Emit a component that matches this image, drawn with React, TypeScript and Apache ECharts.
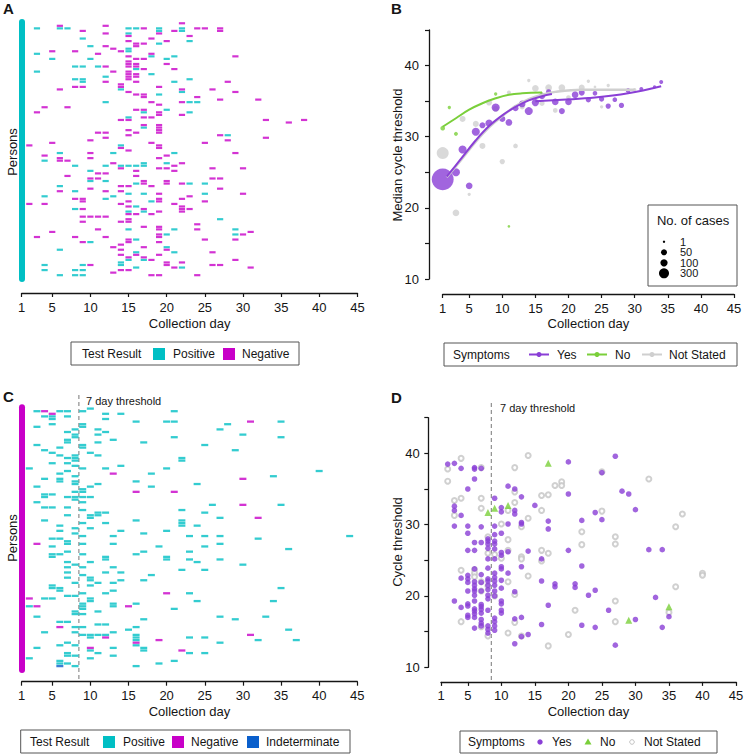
import React, { useEffect, useRef } from "react";
import * as echarts from "echarts";

const FONT = '"Liberation Sans", Arial, Helvetica, sans-serif';
const TEAL = "#00BFC4";
const MAGENTA = "#C800C8";
const BLUE = "#0A5FCC";
const PURPLE = "#8A3FD6";
const GREEN = "#7ACF3A";
const GRAY = "#CFCFCF";
const INK = "#151515";

const DAY_TICKS = [1, 5, 10, 15, 20, 25, 30, 35, 40, 45];
const THRESHOLD_DAY = 8.5;

// ---------- Panel A: [collection day, person] ----------
const aPositive: [number, number][] = [
  [3, 2], [3, 12], [3, 19], [4, 54], [4, 68], [4, 95], [4, 97], [5, 14],
  [6, 2], [6, 51], [6, 64], [6, 89], [6, 99], [7, 2],
  [8, 17], [8, 22], [8, 56], [8, 66], [8, 73], [8, 97], [8, 99],
  [9, 6], [9, 17], [9, 22], [9, 23], [9, 95], [9, 97], [9, 99],
  [10, 9], [10, 14], [10, 58], [10, 62], [10, 86], [11, 17],
  [12, 21], [12, 31], [12, 56], [12, 62], [12, 69], [13, 51], [13, 68],
  [14, 26], [14, 48], [14, 56], [14, 94], [14, 95],
  [15, 2], [15, 4], [15, 10], [15, 11], [15, 37], [15, 56], [15, 67], [15, 74], [15, 81], [15, 93],
  [16, 2], [16, 18], [16, 56], [16, 63], [16, 72], [16, 85], [16, 90], [16, 96],
  [17, 35], [17, 41], [17, 55], [17, 56], [17, 67], [17, 74], [17, 93],
  [18, 13], [18, 20], [18, 70], [19, 2], [19, 3], [19, 8], [19, 28],
  [20, 14], [20, 34], [20, 55], [20, 83], [20, 88],
  [21, 13], [21, 23], [21, 51], [21, 81], [21, 90],
  [22, 2], [22, 3], [22, 27], [22, 96],
  [23, 7], [23, 22], [23, 31], [23, 35], [23, 63], [24, 31], [25, 63], [25, 67],
  [27, 77], [28, 44], [29, 81], [29, 83],
];
const aNegative: [number, number][] = [
  [2, 48], [2, 71], [3, 35], [3, 84], [4, 33], [4, 52], [4, 71], [5, 11], [5, 47], [5, 82],
  [6, 1], [6, 26], [6, 53], [6, 54], [6, 66], [7, 33], [7, 54], [7, 60],
  [8, 11], [8, 25], [8, 69], [8, 84],
  [9, 3], [9, 25], [9, 69], [9, 70], [9, 73], [9, 76], [9, 78], [9, 86],
  [10, 46], [10, 51], [10, 53], [10, 61], [10, 65], [10, 76], [10, 95],
  [11, 12], [11, 43], [11, 59], [11, 61], [11, 76], [11, 81],
  [12, 1], [12, 4], [12, 9], [12, 17], [12, 23], [12, 43], [12, 45], [12, 59], [12, 66], [12, 76], [12, 84],
  [13, 10], [13, 19], [13, 55], [13, 88], [13, 98],
  [14, 11], [14, 24], [14, 25], [14, 38], [14, 49], [14, 57], [14, 64], [14, 66], [14, 71], [14, 78],
  [14, 87], [14, 89], [14, 91], [14, 97],
  [15, 5], [15, 7], [15, 13], [15, 15], [15, 16], [15, 17], [15, 19], [15, 20], [15, 21], [15, 22],
  [15, 27], [15, 38], [15, 42], [15, 44], [15, 50], [15, 64], [15, 70], [15, 72], [15, 75], [15, 77],
  [15, 78], [15, 85], [15, 86], [15, 92], [15, 97],
  [16, 8], [16, 9], [16, 14], [16, 16], [16, 17], [16, 20], [16, 21], [16, 23], [16, 28], [16, 34],
  [16, 43], [16, 58], [16, 60], [16, 75], [16, 91],
  [17, 2], [17, 8], [17, 14], [17, 18], [17, 28], [17, 29], [17, 34], [17, 37], [17, 40], [17, 62],
  [17, 63], [17, 73], [17, 80], [17, 88], [17, 92],
  [18, 6], [18, 12], [18, 31], [18, 37], [18, 47], [18, 64], [18, 75], [18, 93], [18, 99],
  [19, 4], [19, 25], [19, 32], [19, 35], [19, 36], [19, 40], [19, 41], [19, 42], [19, 43], [19, 48],
  [19, 49], [19, 53], [19, 57], [19, 67], [19, 69], [19, 70], [19, 74], [19, 80], [19, 81], [19, 83],
  [19, 84], [19, 86], [19, 91], [19, 99],
  [20, 7], [20, 16], [20, 52], [20, 57], [20, 62], [20, 63], [20, 89], [20, 94], [20, 95],
  [21, 3], [21, 18], [21, 56], [21, 58], [21, 71], [21, 96],
  [22, 0], [22, 26], [22, 31], [22, 36], [22, 55], [22, 63], [22, 69], [22, 72], [22, 73], [22, 74], [22, 94],
  [23, 5], [23, 68], [23, 73], [24, 2], [24, 29], [24, 79], [24, 81], [24, 99],
  [25, 2], [25, 47], [25, 70], [25, 85], [26, 26], [26, 57], [26, 61], [26, 90], [26, 95],
  [27, 2], [27, 3], [27, 30], [27, 44], [27, 61], [27, 65], [27, 95], [28, 23], [28, 46],
  [29, 13], [29, 27], [29, 51], [29, 85], [29, 93], [30, 57], [30, 67], [30, 83],
  [31, 82], [31, 96], [32, 30], [33, 38], [33, 45], [36, 39], [38, 38],
];

// ---------- Panel B: [day, median Ct, no. of cases] ----------
const bYes: [number, number, number][] = [
  [1, 24.0, 3700], [3, 25.0, 140], [4, 28.2, 140], [5, 23.1, 75], [6, 30.7, 140], [7, 31.6, 51],
  [8, 31.9, 100], [9, 34.1, 140], [10, 32.5, 51], [11, 32.0, 75], [12, 34.0, 51], [13, 34.6, 75],
  [14, 33.6, 140], [15, 34.8, 100], [16, 35.7, 51], [17, 36.3, 32], [18, 34.9, 75], [19, 33.6, 51],
  [20, 34.9, 75], [21, 35.9, 75], [22, 36.2, 51], [23, 35.2, 32], [24, 36.1, 20], [25, 35.3, 32],
  [26, 34.3, 32], [27, 35.2, 20], [28, 34.4, 32], [29, 36.5, 20], [31, 36.7, 11], [33, 37.0, 5],
  [34, 37.7, 11],
];
const bNo: [number, number, number][] = [
  [1, 31.2, 20], [2, 34.1, 5], [3, 30.4, 11], [9, 36.0, 5], [11, 17.4, 2], [16, 36.0, 5],
];
const bNotStated: [number, number, number][] = [
  [1, 27.7, 540], [3, 19.3, 75], [4, 32.5, 51], [5, 21.9, 5], [6, 31.8, 51], [7, 28.7, 51],
  [8, 34.8, 51], [9, 33.9, 51], [10, 26.5, 32], [11, 36.2, 11], [12, 28.7, 20], [13, 34.2, 32],
  [14, 37.9, 5], [15, 36.8, 75], [16, 34.7, 32], [17, 36.9, 75], [18, 33.7, 20], [19, 36.9, 75],
  [20, 35.5, 20], [22, 36.9, 51], [23, 37.8, 5], [24, 37.0, 2], [25, 34.2, 5], [26, 37.2, 5],
  [30, 36.6, 5],
];
const bYesFitEarly: [number, number][] = [
  [1.6, 24.4], [3.6, 26.7], [6, 29.5], [8, 31.5], [10, 33.0], [12, 34.2], [14, 35.1], [16, 35.7], [17.5, 36.0],
];
const bYesFitLate: [number, number][] = [
  [15, 35.0], [19, 35.2], [24, 35.5], [29, 36.1], [34, 37.1],
];
const bNotStatedFit: [number, number][] = [
  [1.6, 24.3], [3.6, 26.5], [6, 29.3], [8, 31.3], [10, 32.9], [12, 34.3], [14, 35.3], [16, 35.9],
  [18, 36.3], [22, 36.6], [26, 36.6], [30, 36.6],
];
const bNoFit: [number, number][] = [
  [1, 31.4], [3, 32.6], [5, 33.8], [7, 34.7], [9, 35.4], [11, 35.9], [13, 36.1], [16, 36.2],
];
const bLegendCases = [1, 50, 100, 300];

// ---------- Panel C: [collection day, person] ----------
const cPositive: [number, number][] = [
  [2, 23], [2, 76], [2, 96],
  [3, 1], [3, 7], [3, 14], [3, 30], [3, 36], [3, 80], [3, 92],
  [4, 3], [4, 16], [4, 27], [4, 33], [4, 34], [4, 38], [4, 43], [4, 73], [4, 86],
  [5, 3], [5, 4], [5, 6], [5, 17], [5, 21], [5, 33], [5, 38], [5, 50], [5, 53], [5, 56], [5, 57], [5, 68], [5, 69], [5, 73],
  [6, 1], [6, 15], [6, 18], [6, 25], [6, 27], [6, 28], [6, 45], [6, 47], [6, 50], [6, 56], [6, 69], [6, 70], [6, 82], [6, 91], [6, 97], [6, 98],
  [7, 1], [7, 3], [7, 9], [7, 12], [7, 13], [7, 19], [7, 21], [7, 24], [7, 34], [7, 38], [7, 41], [7, 51], [7, 52], [7, 55], [7, 59],
  [7, 61], [7, 63], [7, 65], [7, 72], [7, 82], [7, 90], [7, 94], [7, 95], [7, 98],
  [8, 8], [8, 10], [8, 11], [8, 18], [8, 19], [8, 20], [8, 22], [8, 26], [8, 28], [8, 29], [8, 32], [8, 34], [8, 35], [8, 46], [8, 48],
  [8, 60], [8, 67], [8, 72], [8, 78], [8, 79], [8, 84], [8, 86], [8, 91], [8, 95], [8, 99],
  [9, 1], [9, 6], [9, 7], [9, 14], [9, 15], [9, 23], [9, 31], [9, 32], [9, 34], [9, 36], [9, 39], [9, 44], [9, 49], [9, 52], [9, 56],
  [9, 61], [9, 64], [9, 71], [9, 75], [9, 76], [9, 77], [9, 79], [9, 84], [9, 87],
  [10, 0], [10, 17], [10, 30], [10, 34], [10, 41], [10, 42], [10, 46], [10, 59], [10, 65], [10, 66], [10, 68], [10, 73], [10, 74], [10, 87], [10, 88], [10, 93], [10, 96],
  [11, 8], [11, 10], [11, 13], [11, 18], [11, 29], [11, 40], [11, 41], [11, 67], [11, 78], [11, 83], [11, 87], [11, 94],
  [12, 2], [12, 4], [12, 9], [12, 23], [12, 40], [12, 44], [12, 57], [12, 58], [12, 63], [12, 71], [12, 83], [12, 87],
  [13, 12], [13, 49], [13, 52], [13, 61], [13, 67], [13, 70], [13, 75], [13, 76], [13, 86], [13, 92], [13, 95],
  [14, 2], [14, 22], [14, 47], [14, 63], [14, 66], [15, 85],
  [16, 5], [16, 28], [16, 43], [16, 56], [16, 75], [16, 84], [16, 87], [16, 88], [16, 89], [16, 91], [16, 99],
  [17, 13], [17, 48], [17, 55], [17, 66], [17, 81], [17, 92], [17, 93], [18, 25], [18, 30], [18, 64],
  [19, 53], [19, 98], [20, 5], [20, 23], [20, 47], [20, 57], [20, 58],
  [21, 1], [21, 5], [21, 11], [21, 77], [21, 97],
  [22, 19], [22, 20], [22, 39], [22, 43], [22, 44], [22, 45], [22, 62],
  [23, 49], [23, 55], [23, 58], [23, 71], [23, 88], [23, 94], [24, 29], [24, 45], [24, 59], [24, 74],
  [25, 14], [25, 40], [25, 49], [25, 53], [25, 62], [25, 88], [25, 94], [26, 37],
  [27, 8], [27, 42], [27, 49], [27, 52], [27, 58], [27, 80], [27, 90], [28, 6], [29, 16], [29, 81],
  [30, 10], [30, 60], [32, 50], [32, 89], [33, 80], [34, 26], [34, 74],
  [35, 5], [35, 11], [35, 37], [35, 69], [36, 54], [36, 85], [37, 89], [40, 24], [44, 49],
];
const cNegative: [number, number][] = [
  [2, 73], [3, 52], [3, 76], [4, 1], [5, 2], [6, 84], [10, 92], [12, 88], [13, 25], [15, 76],
  [16, 32], [16, 90], [19, 89], [20, 71], [21, 32], [22, 93], [30, 27], [30, 37], [31, 5], [31, 87], [32, 42],
];
const cIndeterminate: [number, number][] = [[6, 99]];

// ---------- Panel D: [day, [cycle thresholds]] ----------
const dYes: [number, number[]][] = [
  [2, [38.5]],
  [3, [38.6, 32.6, 32.0, 29.8, 19.3]],
  [4, [37.9, 31.3, 22.5, 18.4]],
  [5, [35.0, 29.8, 28.8, 26.4, 22.9, 22.4, 21.9, 20.7, 18.9, 18.6, 17.3, 17.0]],
  [6, [38.0, 37.8, 36.4, 27.5, 26.4, 23.8, 22.0, 21.5, 21.0, 20.7, 20.1, 19.3, 18.2, 17.9, 17.5, 17.0, 15.5]],
  [7, [37.9, 29.7, 27.5, 23.0, 21.9, 20.7, 18.8, 18.5, 18.1, 17.6, 16.7, 16.2, 15.8]],
  [8, [28.0, 27.7, 27.3, 26.7, 25.2, 23.9, 22.4, 22.1, 21.5, 20.9, 20.1, 19.6, 18.0, 15.8, 15.3, 14.8]],
  [9, [33.7, 29.8, 28.6, 27.7, 27.3, 26.6, 25.2, 23.2, 22.6, 22.1, 21.5, 20.7, 20.0, 16.9, 16.4, 15.8, 15.2]],
  [10, [32.4, 31.8, 28.8, 26.1, 25.7, 24.1, 23.8, 22.2, 21.1, 19.3, 18.9, 18.0, 17.6]],
  [11, [35.4, 30.1, 26.2, 23.2]],
  [12, [35.0, 32.0, 31.5, 20.6, 16.8, 13.3]],
  [13, [33.9, 30.3, 30.1, 24.1, 17.0, 14.3]],
  [14, [26.3, 14.6]],
  [15, [32.7]],
  [16, [25.2, 22.1, 16.0]],
  [17, [30.5, 29.4, 18.7]],
  [18, [21.7, 21.3]],
  [20, [38.8, 34.3, 26.4]],
  [21, [21.7, 21.2]],
  [22, [30.6, 24.2, 15.9]],
  [23, [20.1]],
  [24, [31.7, 20.8, 15.6]],
  [25, [37.3, 30.7]],
  [26, [18.0]],
  [27, [39.6, 13.1]],
  [28, [34.7]],
  [29, [34.3]],
  [30, [32.1, 16.7]],
  [32, [26.5]],
  [33, [19.8]],
  [34, [26.5, 15.6]],
  [35, [17.1]],
];
const dNo: [number, number][] = [
  [8, 31.7], [9, 32.3], [11, 32.7], [17, 38.6], [29, 16.6], [35, 18.5],
];
const dNotStated: [number, number[]][] = [
  [2, [37.8, 36.1]],
  [3, [33.4, 31.3]],
  [4, [39.3, 33.7, 23.6, 16.4]],
  [6, [23.7, 23.2, 22.7]],
  [7, [38.0, 33.7, 32.3, 22.0, 20.7, 15.7]],
  [8, [28.3, 26.0, 21.4, 14.4]],
  [9, [25.8, 20.0]],
  [10, [30.1, 25.3]],
  [11, [32.0, 27.9, 26.4, 22.0, 14.8]],
  [12, [38.0, 34.6, 33.1, 20.2, 16.3]],
  [13, [29.7, 25.5, 25.2, 14.4]],
  [14, [39.7, 30.9, 22.8]],
  [16, [34.1, 32.0, 26.4, 24.9]],
  [17, [34.2, 26.0, 13.0]],
  [18, [35.5]],
  [19, [36.0, 35.5]],
  [20, [14.6]],
  [21, [18.0]],
  [22, [29.0, 27.2]],
  [25, [37.4, 31.9]],
  [27, [28.3, 27.3, 19.3, 16.4]],
  [32, [36.4]],
  [35, [17.7]],
  [36, [29.7, 21.3]],
  [37, [31.5]],
  [40, [23.2, 22.9]],
];

const bubbleSize = (n: number) => 1 + 1.35 * Math.cbrt(n);
const flatten = (g: [number, number[]][]) => g.flatMap(([d, vs]) => vs.map((v) => [d, v]));

function dayAxis(gridIndex: number, offset: number, margin: number, nameGap: number) {
  return {
    type: "value",
    gridIndex,
    min: 1,
    max: 45,
    offset,
    name: "Collection day",
    nameLocation: "middle",
    nameGap,
    nameTextStyle: { fontFamily: FONT, fontSize: 13, color: INK },
    axisLine: { show: true, onZero: false, lineStyle: { color: INK, width: 1.3 } },
    axisTick: { show: true, length: 4, customValues: DAY_TICKS, lineStyle: { color: INK, width: 1.2 } },
    axisLabel: { show: true, customValues: DAY_TICKS, margin, fontFamily: FONT, fontSize: 13, color: INK },
    splitLine: { show: false },
  };
}

function personAxis(gridIndex: number, color: string) {
  return {
    type: "value",
    gridIndex,
    min: -0.5,
    max: 100.5,
    inverse: true,
    axisLine: { show: true, onZero: false, lineStyle: { color, width: 6 } },
    axisTick: { show: false },
    axisLabel: { show: false },
    splitLine: { show: false },
  };
}

function ctAxis(gridIndex: number, offset: number, margin: number) {
  return {
    type: "value",
    gridIndex,
    min: 10,
    max: 45,
    interval: 5,
    offset,
    axisLine: { show: true, onZero: false, lineStyle: { color: INK, width: 1.3 } },
    axisTick: { show: true, length: 4, lineStyle: { color: INK, width: 1.2 } },
    axisLabel: {
      show: true,
      margin,
      fontFamily: FONT,
      fontSize: 13,
      color: INK,
      formatter: (v: number) => (v % 10 === 0 ? String(v) : ""),
    },
    splitLine: { show: false },
  };
}

function txt(x: number, y: number, text: string, size = 12, align = "left", extra: any = {}) {
  return {
    type: "text",
    x,
    y,
    silent: true,
    style: {
      text,
      fill: INK,
      font: `${extra.bold ? "bold " : ""}${size}px ${FONT}`,
      align,
      verticalAlign: "middle",
      textAlign: align,
      textVerticalAlign: "middle",
      ...(extra.lineHeight ? { lineHeight: extra.lineHeight } : {}),
    },
    rotation: extra.rotation || 0,
  };
}

function box(x: number, y: number, w: number, h: number) {
  return { type: "rect", shape: { x, y, width: w, height: h }, style: { fill: "#fff", stroke: "#555", lineWidth: 1 } };
}

function square(x: number, y: number, color: string) {
  return { type: "rect", shape: { x, y, width: 12, height: 12 }, style: { fill: color } };
}

export default function App() {
  const ref = useRef<HTMLDivElement>(null);

  useEffect(() => {
    document.body.style.margin = "0";
    const chart = echarts.init(ref.current!, null, { renderer: "svg" });

    const option: any = {
      animation: false,
      backgroundColor: "#fff",
      textStyle: { fontFamily: FONT },
      grid: [
        { left: 21.7, top: 22, width: 335.8, height: 257, outerBoundsMode: "none" },
        { left: 442.7, top: 30, width: 291.3, height: 249, outerBoundsMode: "none" },
        { left: 21.7, top: 407.3, width: 335.6, height: 262.7, outerBoundsMode: "none" },
        { left: 441, top: 417.7, width: 295, height: 249.6, outerBoundsMode: "none" },
      ],
      xAxis: [
        dayAxis(0, 14, 8, 24),
        dayAxis(1, 15, 8, 22.5),
        dayAxis(2, 11.7, 7, 23.5),
        dayAxis(3, 14.6, 7, 23),
      ],
      yAxis: [
        personAxis(0, TEAL),
        ctAxis(1, 13.7, 10),
        personAxis(2, MAGENTA),
        ctAxis(3, 12.7, 8.5),
      ],
      series: [
        // Panel A
        { type: "scatter", xAxisIndex: 0, yAxisIndex: 0, symbol: "rect", symbolSize: [6.2, 2.2], data: aPositive, itemStyle: { color: TEAL } },
        { type: "scatter", xAxisIndex: 0, yAxisIndex: 0, symbol: "rect", symbolSize: [6.2, 2.2], data: aNegative, itemStyle: { color: MAGENTA } },
        // Panel B
        { type: "scatter", xAxisIndex: 1, yAxisIndex: 1, data: bNotStated, symbolSize: (v: number[]) => bubbleSize(v[2]), itemStyle: { color: GRAY } },
        { type: "scatter", xAxisIndex: 1, yAxisIndex: 1, data: bNo, symbolSize: (v: number[]) => bubbleSize(v[2]), itemStyle: { color: GREEN } },
        { type: "scatter", xAxisIndex: 1, yAxisIndex: 1, data: bYes, symbolSize: (v: number[]) => bubbleSize(v[2]), itemStyle: { color: PURPLE } },
        { type: "line", xAxisIndex: 1, yAxisIndex: 1, data: bNotStatedFit, smooth: 0.4, showSymbol: false, lineStyle: { color: GRAY, width: 2.4 }, z: 3 },
        { type: "line", xAxisIndex: 1, yAxisIndex: 1, data: bYesFitEarly, smooth: 0.4, showSymbol: false, lineStyle: { color: PURPLE, width: 2 }, z: 4 },
        { type: "line", xAxisIndex: 1, yAxisIndex: 1, data: bYesFitLate, smooth: 0.4, showSymbol: false, lineStyle: { color: PURPLE, width: 2 }, z: 4 },
        { type: "line", xAxisIndex: 1, yAxisIndex: 1, data: bNoFit, smooth: 0.4, showSymbol: false, lineStyle: { color: GREEN, width: 2 }, z: 4 },
        // Panel C
        { type: "scatter", xAxisIndex: 2, yAxisIndex: 2, symbol: "rect", symbolSize: [7, 2.3], data: cPositive, itemStyle: { color: TEAL } },
        { type: "scatter", xAxisIndex: 2, yAxisIndex: 2, symbol: "rect", symbolSize: [7, 2.3], data: cNegative, itemStyle: { color: MAGENTA } },
        { type: "scatter", xAxisIndex: 2, yAxisIndex: 2, symbol: "rect", symbolSize: [7, 2.3], data: cIndeterminate, itemStyle: { color: BLUE } },
        // Panel D
        { type: "scatter", xAxisIndex: 3, yAxisIndex: 3, symbol: "emptyCircle", symbolSize: 5, data: flatten(dNotStated), itemStyle: { color: "#C4C4C4", borderWidth: 1 } },
        { type: "scatter", xAxisIndex: 3, yAxisIndex: 3, symbol: "circle", symbolSize: 5.6, data: flatten(dYes), itemStyle: { color: PURPLE } },
        { type: "scatter", xAxisIndex: 3, yAxisIndex: 3, symbol: "triangle", symbolSize: 7, data: dNo, itemStyle: { color: GREEN } },
      ],
    };
    chart.setOption(option);

    const xC = chart.convertToPixel({ xAxisIndex: 2 }, THRESHOLD_DAY) as number;
    const xD = chart.convertToPixel({ xAxisIndex: 3 }, THRESHOLD_DAY) as number;

    const legendCircleY = [241.8, 252.3, 262.8, 273.3];

    const graphic: any[] = [
      // panel letters
      txt(3, 8.5, "A", 15, "left", { bold: true }),
      txt(391, 8.5, "B", 15, "left", { bold: true }),
      txt(3, 396.5, "C", 15, "left", { bold: true }),
      txt(391, 397.5, "D", 15, "left", { bold: true }),
      // y-axis titles
      txt(12, 152, "Persons", 13, "center", { rotation: Math.PI / 2 }),
      txt(397, 155, "Median cycle threshold", 13, "center", { rotation: Math.PI / 2 }),
      txt(12, 538, "Persons", 13, "center", { rotation: Math.PI / 2 }),
      txt(397, 542, "Cycle threshold", 13, "center", { rotation: Math.PI / 2 }),
      // threshold lines
      { type: "line", shape: { x1: xC, y1: 395, x2: xC, y2: 681.7 }, style: { stroke: "#777", lineWidth: 1, lineDash: [4, 3] } },
      txt(86, 400.7, "7 day threshold", 11),
      { type: "line", shape: { x1: xD, y1: 403, x2: xD, y2: 682.3 }, style: { stroke: "#777", lineWidth: 1, lineDash: [4, 3] } },
      txt(500, 408.3, "7 day threshold", 11),
      // legend A
      box(71, 342, 228, 23),
      txt(82, 353.8, "Test Result", 12),
      square(153, 348, TEAL),
      txt(173, 353.8, "Positive", 12),
      square(223, 348, MAGENTA),
      txt(242, 353.8, "Negative", 12),
      // legend B (symptoms)
      box(444, 343, 293, 23),
      txt(453, 354.5, "Symptoms", 12),
      { type: "line", shape: { x1: 529, y1: 354.5, x2: 549, y2: 354.5 }, style: { stroke: PURPLE, lineWidth: 2 } },
      { type: "circle", shape: { cx: 539, cy: 354.5, r: 2.5 }, style: { fill: PURPLE } },
      txt(557, 354.5, "Yes", 12),
      { type: "line", shape: { x1: 587, y1: 354.5, x2: 607, y2: 354.5 }, style: { stroke: GREEN, lineWidth: 2 } },
      { type: "circle", shape: { cx: 597, cy: 354.5, r: 2.5 }, style: { fill: GREEN } },
      txt(615, 354.5, "No", 12),
      { type: "line", shape: { x1: 642, y1: 354.5, x2: 662, y2: 354.5 }, style: { stroke: GRAY, lineWidth: 2 } },
      { type: "circle", shape: { cx: 652, cy: 354.5, r: 2.5 }, style: { fill: GRAY } },
      txt(669, 354.5, "Not Stated", 12),
      // legend B (cases)
      box(648, 205, 89, 81),
      txt(693, 220, "No. of cases", 13, "center"),
      ...bLegendCases.flatMap((n, i) => [
        { type: "circle", shape: { cx: 664, cy: legendCircleY[i], r: bubbleSize(n) / 2 }, style: { fill: "#000" } },
        txt(680, legendCircleY[i], String(n), 11, "left", { lineHeight: 10 }),
      ]),
      // legend C
      box(20.7, 730, 329.3, 23),
      txt(30, 741.7, "Test Result", 12),
      square(103, 736, TEAL),
      txt(123, 741.7, "Positive", 12),
      square(172, 736, MAGENTA),
      txt(191, 741.7, "Negative", 12),
      square(247, 736, BLUE),
      txt(266, 741.7, "Indeterminate", 12),
      // legend D
      box(460, 731, 257, 22),
      txt(468, 742, "Symptoms", 12),
      { type: "circle", shape: { cx: 540, cy: 742, r: 2.7 }, style: { fill: PURPLE } },
      txt(552, 742, "Yes", 12),
      { type: "polygon", shape: { points: [[588, 738.5], [591.5, 744.5], [584.5, 744.5]] }, style: { fill: GREEN } },
      txt(600, 742, "No", 12),
      { type: "circle", shape: { cx: 632, cy: 742, r: 2.3 }, style: { fill: "#fff", stroke: "#C4C4C4", lineWidth: 1 } },
      txt(644, 742, "Not Stated", 12),
    ];

    chart.setOption({ graphic });

    return () => chart.dispose();
  }, []);

  return <div ref={ref} style={{ width: 745, height: 756 }} />;
}
